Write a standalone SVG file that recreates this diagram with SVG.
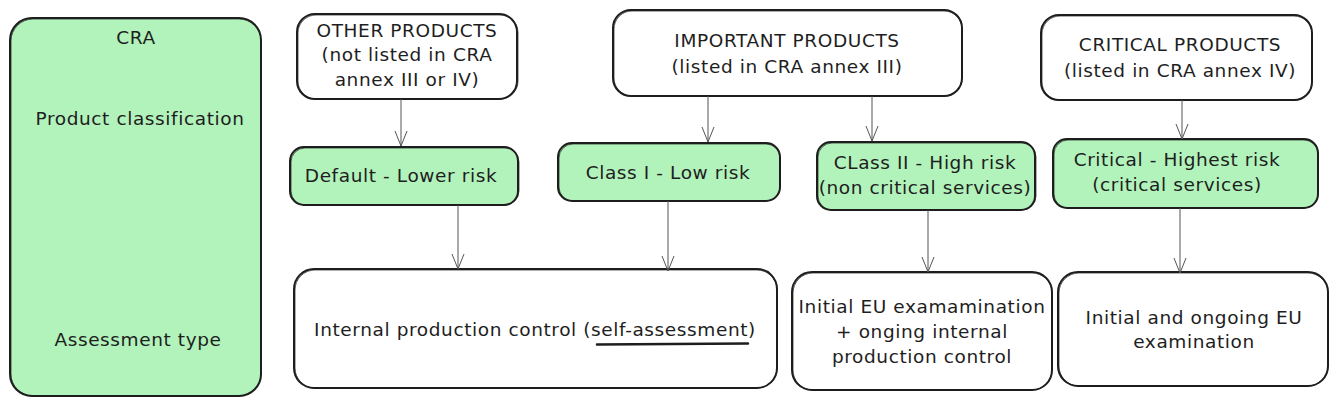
<svg xmlns="http://www.w3.org/2000/svg" width="1336" height="414" viewBox="0 0 1336 414">
<style>
.box{fill:#ffffff;stroke:#1e1e1e;stroke-width:2}
.gbox{fill:#b2f2bb;stroke:#1e1e1e;stroke-width:2}
.sk{fill:none;stroke:#1e1e1e;stroke-width:1;opacity:0.7}
.t{font-family:"DejaVu Sans","Liberation Sans",sans-serif;font-size:18.5px;letter-spacing:0.6px;fill:#1e1e1e;text-anchor:middle}
.c{fill:none;stroke:#555555;stroke-width:1}
</style>
<defs>
<marker id="ah" markerUnits="userSpaceOnUse" markerWidth="20" markerHeight="20" viewBox="-16 -8 20 16" refX="0" refY="0" orient="auto">
<path d="M-15,-6 L0,0 L-15,6" fill="none" stroke="#555555" stroke-width="1"/>
</marker>
</defs>
<g id="cra">
<rect class="gbox" x="10" y="18" width="251" height="378" rx="22"/>
<rect class="sk" x="11" y="19" width="250" height="377" rx="22"/>
<text class="t" x="136" y="44">CRA</text>
<text class="t" x="140" y="125">Product classification</text>
<text class="t" x="138" y="346">Assessment type</text>
</g>
<g id="other-products">
<rect class="box" x="297" y="14" width="220" height="85" rx="18"/>
<rect class="sk" x="298" y="15" width="220" height="84" rx="18"/>
<text class="t" x="407" y="37">OTHER PRODUCTS</text>
<text class="t" x="407" y="61">(not listed in CRA</text>
<text class="t" x="407" y="86">annex III or IV)</text>
</g>
<g id="important-products">
<rect class="box" x="613" y="10" width="349" height="86" rx="18"/>
<rect class="sk" x="614" y="11" width="348" height="85" rx="18"/>
<text class="t" x="787" y="47">IMPORTANT PRODUCTS</text>
<text class="t" x="787" y="73">(listed in CRA annex III)</text>
</g>
<g id="critical-products">
<rect class="box" x="1041" y="15" width="271" height="85" rx="18"/>
<rect class="sk" x="1042" y="16" width="270" height="84" rx="18"/>
<text class="t" x="1180" y="51">CRITICAL PRODUCTS</text>
<text class="t" x="1180" y="77">(listed in CRA annex IV)</text>
</g>
<g id="default">
<rect class="gbox" x="290" y="147" width="228" height="58" rx="14"/>
<rect class="sk" x="291" y="148" width="228" height="57" rx="14"/>
<text class="t" x="401" y="182">Default - Lower risk</text>
</g>
<g id="class-1">
<rect class="gbox" x="558" y="143" width="222" height="58" rx="14"/>
<rect class="sk" x="559" y="144" width="221" height="57" rx="14"/>
<text class="t" x="668" y="179">Class I - Low risk</text>
</g>
<g id="class-2">
<rect class="gbox" x="817" y="142" width="218" height="68" rx="14"/>
<rect class="sk" x="818" y="143" width="218" height="67" rx="14"/>
<text class="t" x="925" y="169">CLass II - High risk</text>
<text class="t" x="925" y="194">(non critical services)</text>
</g>
<g id="critical">
<rect class="gbox" x="1053" y="139" width="265" height="69" rx="14"/>
<rect class="sk" x="1054" y="140" width="264" height="68" rx="14"/>
<text class="t" x="1177" y="166">Critical - Highest risk</text>
<text class="t" x="1177" y="191">(critical services)</text>
</g>
<g id="internal-control">
<rect class="box" x="294" y="269" width="483" height="119" rx="20"/>
<rect class="sk" x="295" y="270" width="482" height="118" rx="20"/>
<text class="t" x="535" y="336">Internal production control (self-assessment)</text>
<path d="M597,344.5 L748,343.5" fill="none" stroke="#1e1e1e" stroke-width="2.5" stroke-linecap="round"/>
</g>
<g id="initial-eu">
<rect class="box" x="792" y="272" width="260" height="118" rx="20"/>
<rect class="sk" x="793" y="273" width="259" height="117" rx="20"/>
<text class="t" x="922" y="313">Initial EU examamination</text>
<text class="t" x="922" y="338">+ onging internal</text>
<text class="t" x="922" y="363">production control</text>
</g>
<g id="initial-ongoing">
<rect class="box" x="1058" y="272" width="270" height="114" rx="20"/>
<rect class="sk" x="1059" y="273" width="269" height="113" rx="20"/>
<text class="t" x="1194" y="324">Initial and ongoing EU</text>
<text class="t" x="1194" y="348">examination</text>
</g>
<g id="connectors">
<path class="c" d="M401,99 L401,146" marker-end="url(#ah)"/>
<path class="c" d="M708,96 L708,142" marker-end="url(#ah)"/>
<path class="c" d="M872,96 L872,141" marker-end="url(#ah)"/>
<path class="c" d="M1182,100 L1182,139" marker-end="url(#ah)"/>
<path class="c" d="M458,205 L458,269" marker-end="url(#ah)"/>
<path class="c" d="M668,201 L668,271" marker-end="url(#ah)"/>
<path class="c" d="M928,210 L928,272" marker-end="url(#ah)"/>
<path class="c" d="M1180,208 L1180,273" marker-end="url(#ah)"/>
</g>
</svg>
